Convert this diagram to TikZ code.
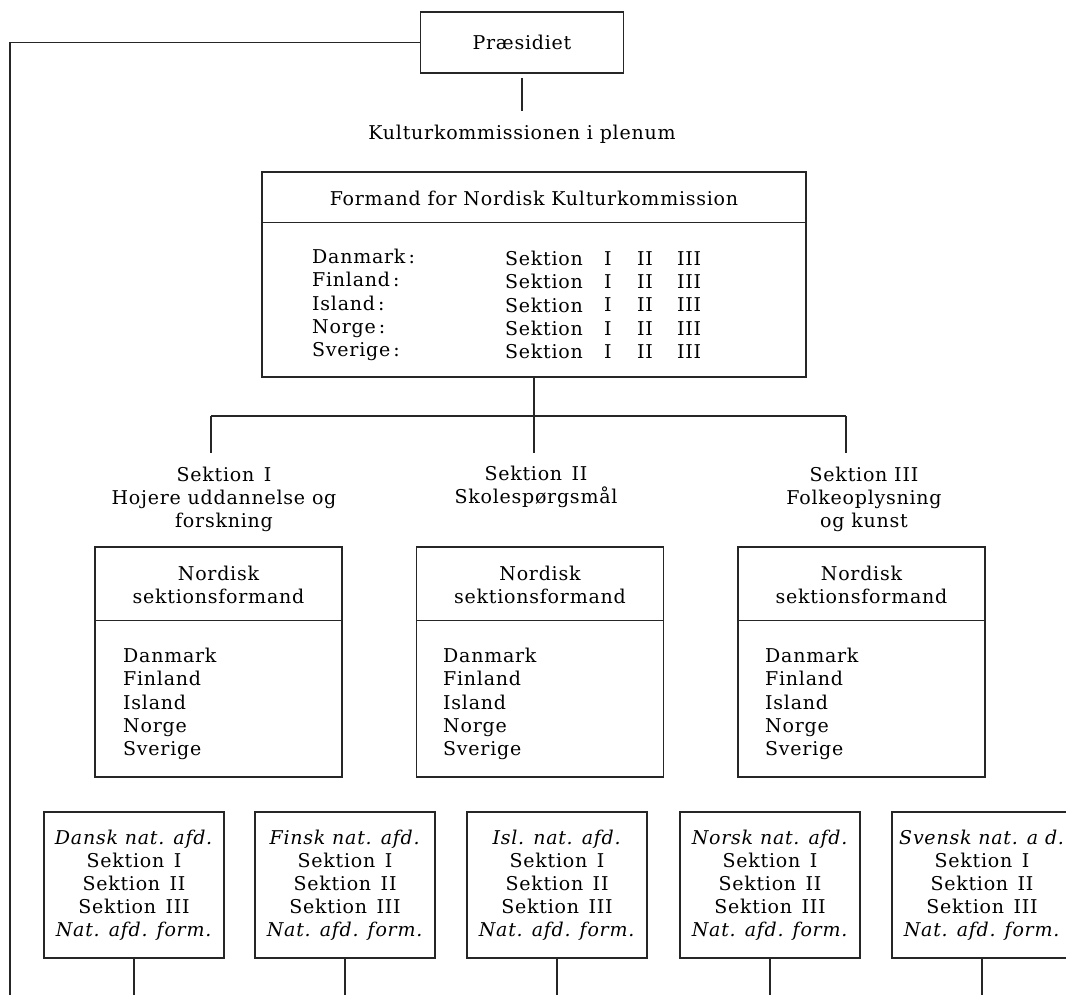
\documentclass[tikz,border=0pt]{standalone}
\usepackage{fontspec}
\setmainfont{DejaVu Serif}[LetterSpace=4]
\usetikzlibrary{calc,positioning}

\tikzset{
  box/.style={draw=black!85, line width=1.2pt, inner sep=0pt},
  link/.style={draw=black!85, line width=1.2pt},
  txt/.style={font=\fontsize{19}{23}\selectfont, inner sep=0pt, align=center},
  lst/.style={font=\fontsize{19}{23.25}\selectfont, inner sep=0pt, align=left, anchor=west},
}

\begin{document}
\begin{tikzpicture}[x=1pt,y=-1pt]
    \useasboundingbox (0,0) rectangle (1066,995);
    %\draw[step=50, gray, very thin] (0,0) grid (1066,995);

    % top
    \node[box, txt, minimum width=203pt, minimum height=61pt] (pres) at (522,42.5) {Præsidiet};
    \coordinate (corner) at (10,995);
    \draw[link] (pres.west) -| (corner);
    \node[txt] (plenum) at (522,134) {Kulturkommissionen i plenum};
    \draw[link] ($(pres.south)+(0,4)$) -- ($(plenum.north)+(0,-14)$);

    % plenum box
    \node[box, minimum width=544pt, minimum height=205pt] (kk) at (534,274.5) {};
    \node[txt] (kkhead) at (534,198) {Formand for Nordisk Kulturkommission};
    \draw[link] ($(kk.north west)+(0,51)$) -- ($(kk.north east)+(0,51)$);
    \node[lst] (land) at (312,305) {Danmark\,:\\Finland\,:\\Island\,:\\Norge\,:\\Sverige\,:};
    \node[lst] (sek) at (505,305) {Sektion\\Sektion\\Sektion\\Sektion\\Sektion};
    \node[lst] (sekI) at (604,305) {I\\I\\I\\I\\I};
    \node[lst] (sekII) at (637,305) {II\\II\\II\\II\\II};
    \node[lst] (sekIII) at (677,305) {III\\III\\III\\III\\III};

    % split into sections
    \coordinate (hub) at (534,416);
    \coordinate (j1) at (211,416);
    \coordinate (j3) at (846,416);
    \draw[link] (kk.south) -- (hub);
    \draw[link] (j1) -- (j3);
    \draw[link] (j1) -- ++(0,37);
    \draw[link] (hub) -- ++(0,37);
    \draw[link] (j3) -- ++(0,37);

    \node[txt] (lab1) at (224,499) {Sektion\enspace I\\Hojere uddannelse og\\forskning};
    \node[txt] (lab2) at (536,487) {Sektion\enspace II\\Skolespørgsmål};
    \node[txt] (lab3) at (864,499) {Sektion III\\Folkeoplysning\\og kunst};

    % section boxes
    \node[box, minimum width=247pt, minimum height=230pt] (s1) at (218.5,662) {};
    \node[box, minimum width=247pt, minimum height=230pt] (s2) at (540,662) {};
    \node[box, minimum width=247pt, minimum height=230pt] (s3) at (861.5,662) {};
    \draw[link] ($(s1.north west)+(0,74)$) -- ($(s1.north east)+(0,74)$);
    \draw[link] ($(s2.north west)+(0,74)$) -- ($(s2.north east)+(0,74)$);
    \draw[link] ($(s3.north west)+(0,74)$) -- ($(s3.north east)+(0,74)$);
    \node[txt] (h1) at (218.5,585) {Nordisk\\sektionsformand};
    \node[txt] (h2) at (540,585) {Nordisk\\sektionsformand};
    \node[txt] (h3) at (861.5,585) {Nordisk\\sektionsformand};
    \node[lst] (l1) at (123,704) {Danmark\\Finland\\Island\\Norge\\Sverige};
    \node[lst] (l2) at (443,704) {Danmark\\Finland\\Island\\Norge\\Sverige};
    \node[lst] (l3) at (765,704) {Danmark\\Finland\\Island\\Norge\\Sverige};

    % national departments
    \begin{scope}[every node/.append style={box, minimum width=180pt, minimum height=146pt, txt}]
    \node (b1) at (134,885) {\textit{Dansk nat. afd.}\\Sektion\enspace I\\Sektion\enspace II\\Sektion\enspace III\\\textit{Nat. afd. form.}};
    \node (b2) at (345,885) {\textit{Finsk nat. afd.}\\Sektion\enspace I\\Sektion\enspace II\\Sektion\enspace III\\\textit{Nat. afd. form.}};
    \node (b3) at (557,885) {\textit{Isl. nat. afd.}\\Sektion\enspace I\\Sektion\enspace II\\Sektion\enspace III\\\textit{Nat. afd. form.}};
    \node (b4) at (770,885) {\textit{Norsk nat. afd.}\\Sektion\enspace I\\Sektion\enspace II\\Sektion\enspace III\\\textit{Nat. afd. form.}};
    \node (b5) at (982,885) {\textit{Svensk nat. a d.}\\Sektion\enspace I\\Sektion\enspace II\\Sektion\enspace III\\\textit{Nat. afd. form.}};
    \end{scope}
    \draw[link] (b1.south) -- (b1.south |- corner);
    \draw[link] (b2.south) -- (b2.south |- corner);
    \draw[link] (b3.south) -- (b3.south |- corner);
    \draw[link] (b4.south) -- (b4.south |- corner);
    \draw[link] (b5.south) -- (b5.south |- corner);
\end{tikzpicture}
\end{document}
